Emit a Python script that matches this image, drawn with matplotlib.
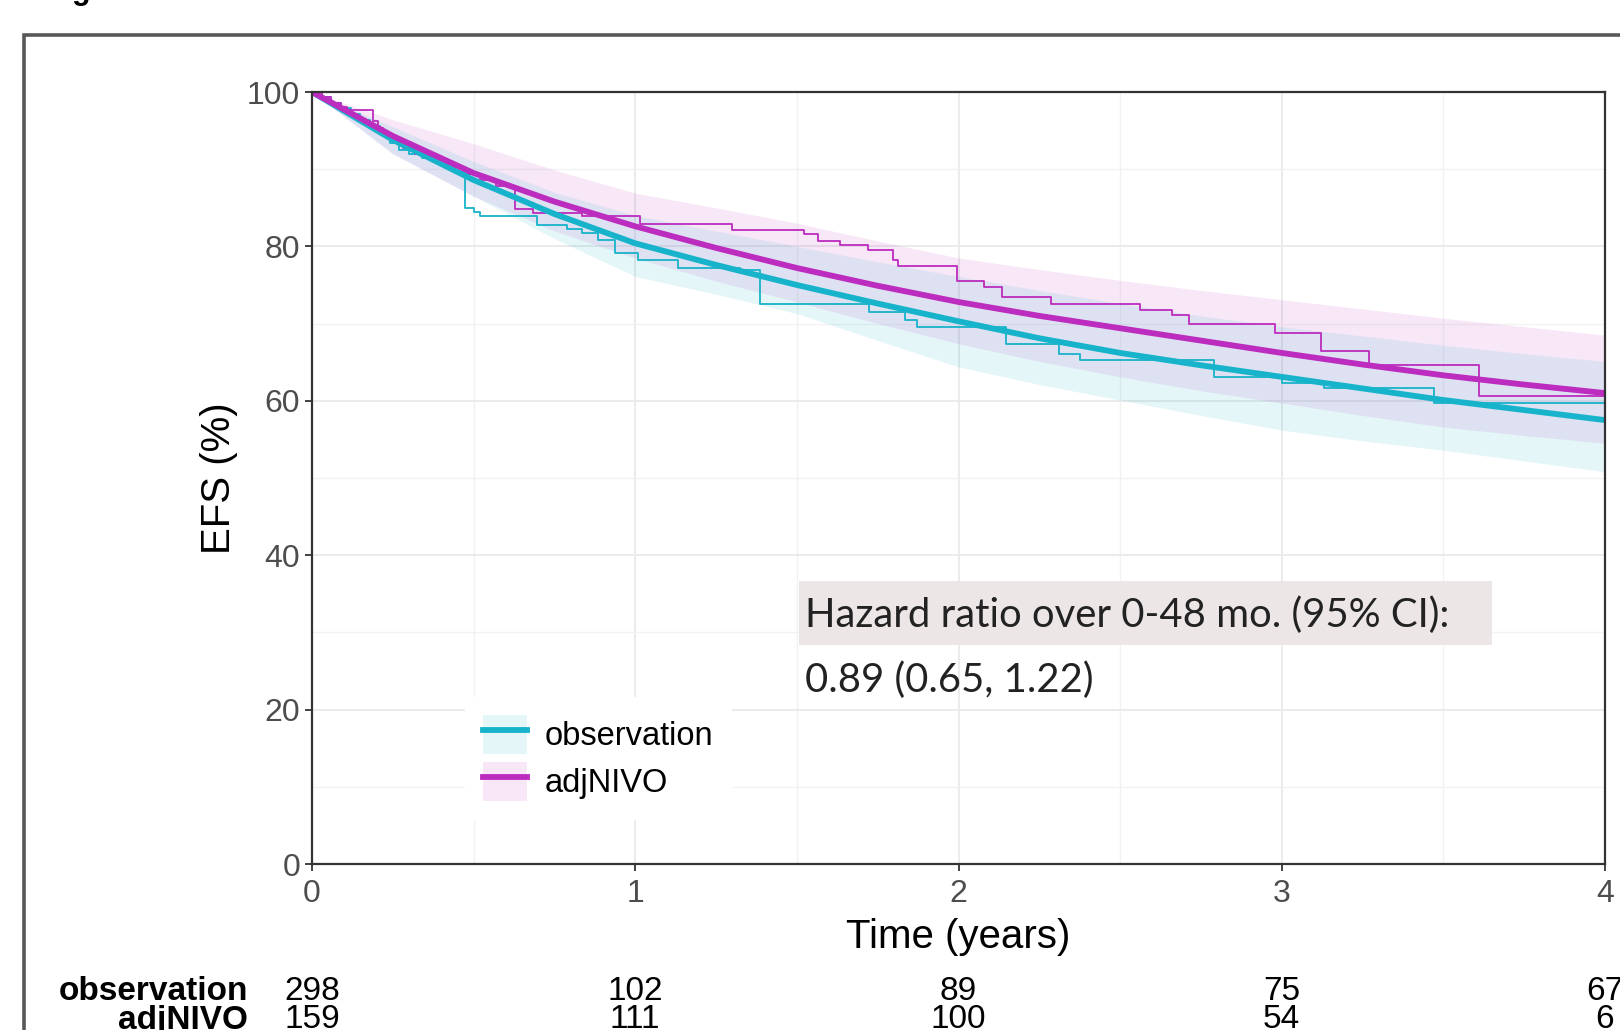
import numpy as np
import matplotlib.pyplot as plt
from matplotlib.patches import Patch, Rectangle
from matplotlib.lines import Line2D

plt.rcParams['font.family'] = ['Liberation Sans', 'DejaVu Sans']

# fitted survival curves (%), read every quarter year
fit_t = [0, 0.25, 0.5, 0.75, 1.0, 1.25, 1.5, 1.75, 2.0, 2.25, 2.5, 2.75, 3.0, 3.25, 3.5, 3.75, 4.0]
obs_fit = [100, 93.8, 88.6, 84.2, 80.4, 77.6, 75.0, 72.6, 70.3, 68.1, 66.2, 64.6, 63.1, 61.6, 60.1, 58.8, 57.5]
obs_lo = [100, 92.0, 86.5, 81.0, 76.1, 73.8, 71.3, 67.8, 64.4, 62.1, 60.1, 58.1, 56.2, 54.8, 53.6, 52.2, 50.8]
obs_hi = [100, 95.5, 91.0, 87.0, 84.0, 82.0, 80.0, 78.0, 76.1, 74.3, 72.6, 71.0, 69.6, 68.4, 67.2, 66.1, 65.1]
niv_fit = [100, 94.3, 89.5, 85.8, 82.6, 79.8, 77.2, 74.9, 72.8, 71.0, 69.4, 67.8, 66.2, 64.7, 63.3, 62.1, 61.0]
niv_lo = [100, 92.0, 86.5, 82.0, 78.5, 75.5, 72.8, 70.0, 67.4, 65.1, 63.1, 61.3, 59.7, 58.1, 56.6, 55.5, 54.5]
niv_hi = [100, 96.4, 93.3, 89.9, 86.9, 85.0, 83.0, 80.7, 78.5, 77.0, 75.6, 74.3, 73.1, 71.9, 70.7, 69.6, 68.5]

# Kaplan-Meier steps (time in years, EFS %)
obs_km_t = [0, 0.03, 0.06, 0.09, 0.12, 0.15, 0.18, 0.21, 0.24, 0.27, 0.30, 0.34, 0.40, 0.44,
            0.473, 0.50, 0.52, 0.695, 0.788, 0.834, 0.886, 0.937, 1.01, 1.133, 1.324, 1.386,
            1.724, 1.834, 1.871, 2.147, 2.312, 2.376, 2.79, 3.0, 3.13, 3.47]
obs_km_s = [100, 99.3, 98.6, 97.9, 97.2, 96.4, 95.6, 94.6, 93.4, 92.5, 92.0, 91.4, 90.8, 89.6,
            85.0, 84.5, 84.0, 82.8, 82.3, 81.8, 80.8, 79.1, 78.2, 77.2, 76.9, 72.6,
            71.5, 70.5, 69.6, 67.4, 66.1, 65.3, 63.1, 62.3, 61.6, 59.7]
niv_km_t = [0, 0.03, 0.06, 0.09, 0.107, 0.19, 0.205, 0.22, 0.25, 0.28, 0.32, 0.37, 0.42, 0.47,
            0.52, 0.57, 0.628, 0.685, 0.834, 1.015, 1.30, 1.522, 1.564, 1.632, 1.721, 1.798,
            1.813, 1.994, 2.079, 2.134, 2.285, 2.561, 2.662, 2.713, 2.978, 3.12, 3.27, 3.61]
niv_km_s = [100, 99.3, 98.6, 98.0, 97.7, 96.3, 95.4, 94.6, 93.7, 92.8, 92.0, 91.2, 90.3, 89.4,
            88.6, 87.8, 84.9, 84.3, 83.9, 82.9, 82.1, 81.6, 80.7, 80.2, 79.5, 78.2,
            77.5, 75.5, 74.7, 73.4, 72.6, 71.8, 71.1, 69.9, 68.8, 66.5, 64.6, 60.6]

# numbers at risk
risk_t = [0, 1, 2, 3, 4]
risk_obs = [298, 102, 89, 75, 67]
risk_niv = [159, 111, 100, 54, 6]
groups = ['observation', 'adjNIVO']

c_obs = '#17B3CB'
c_niv = '#BC2CBF'

fig = plt.figure(figsize=(16.2, 10.3), dpi=100)
ax = fig.add_axes([312/1620, 1-864/1030, 1293/1620, 772/1030])

# outer frame of the screenshot
fig.patches.append(Rectangle((23.5/1620, -0.5), 1.5, 0.5 + 1 - 35/1030, transform=fig.transFigure,
                             fill=False, edgecolor='#585858', lw=2.6))
fig.text(72/1620, 1 + 0.5/1030, 'g', fontsize=22, fontweight='bold', va='baseline', ha='left')

ax.fill_between(fit_t, niv_lo, niv_hi, color=c_niv, alpha=0.11, lw=0)
ax.fill_between(fit_t, obs_lo, obs_hi, color=c_obs, alpha=0.11, lw=0)

ax.step(obs_km_t + [4], obs_km_s + [obs_km_s[-1]], where='post', color=c_obs, lw=1.3)
ax.step(niv_km_t + [4], niv_km_s + [niv_km_s[-1]], where='post', color=c_niv, lw=1.3)
ax.plot(fit_t, obs_fit, color=c_obs, lw=4.2, solid_capstyle='butt')
ax.plot(fit_t, niv_fit, color=c_niv, lw=4.2, solid_capstyle='butt')

ax.set_xlim(0, 4)
ax.set_ylim(0, 100)
ax.set_xticks([0, 1, 2, 3, 4])
ax.set_xticks([0.5, 1.5, 2.5, 3.5], minor=True)
ax.set_yticks([0, 20, 40, 60, 80, 100])
ax.set_yticks([10, 30, 50, 70, 90], minor=True)
ax.grid(which='major', color='#EBEBEB', lw=1.4)
ax.grid(which='minor', color='#F2F2F2', lw=1.0)
ax.set_axisbelow(True)
ax.tick_params(which='major', length=5, width=1.3, color='#333333', labelsize=23,
               labelcolor='#4D4D4D', pad=3.5)
ax.tick_params(axis='x', which='major', pad=5.5)
ax.tick_params(which='minor', length=0)
for s in ax.spines.values():
    s.set_color('#333333')
    s.set_linewidth(1.6)

ax.set_xlabel('Time (years)', fontsize=29, labelpad=7)
ax.set_ylabel('EFS (%)', fontsize=29)
ax.yaxis.set_label_coords(-0.057, 0.5)

# hazard ratio annotation
ax.add_patch(Rectangle((799/1620, 1-645/1030), 693/1620, 64/1030, transform=fig.transFigure,
                       facecolor='#ECE6E6', edgecolor='none', zorder=5))
fig.text(805/1620, 1-615/1030, 'Hazard ratio over 0-48 mo. (95% CI):', family='Lato',
         fontsize=28.8, color='#222222', va='center', ha='left', zorder=6)
fig.text(805/1620, 1-680/1030, '0.89 (0.65, 1.22)', family='Lato',
         fontsize=28.8, color='#222222', va='center', ha='left', zorder=6)

handles = [(Patch(facecolor=c_obs, alpha=0.11, lw=0), Line2D([], [], color=c_obs, lw=4.2)),
           (Patch(facecolor=c_niv, alpha=0.11, lw=0), Line2D([], [], color=c_niv, lw=4.2))]
leg = ax.legend(handles, groups, loc='upper left', bbox_to_anchor=(465/1620, 1-697/1030),
                bbox_transform=fig.transFigure, fontsize=23.5, frameon=True, fancybox=False,
                framealpha=1, edgecolor='white', borderpad=0.55, handlelength=1.35,
                handleheight=1.45, handletextpad=0.53, labelspacing=0.25, borderaxespad=0)

# risk table
for i, (name, vals) in enumerate(zip(groups, [risk_obs, risk_niv])):
    yfig = 1 - (992 + 28*i)/1030
    fig.text(248/1620, yfig, name, fontsize=24, fontweight='bold', ha='right', va='center')
    for t, v in zip(risk_t, vals):
        xfig = fig.transFigure.inverted().transform(ax.transData.transform((t, 0)))[0]
        fig.text(xfig, yfig, str(v), fontsize=24, ha='center', va='center')

fig.savefig('out.png', dpi=100)
